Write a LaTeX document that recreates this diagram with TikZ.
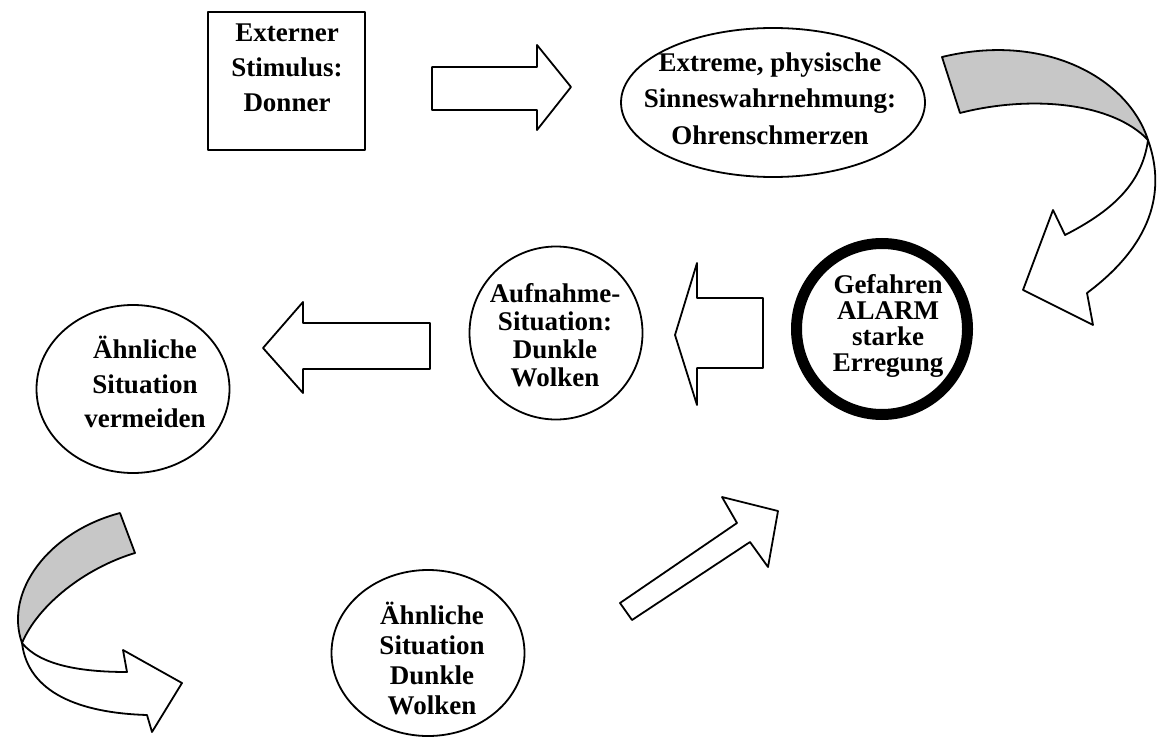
\documentclass[tikz,border=0pt]{standalone}
\usepackage{fontspec}
\setmainfont{Liberation Serif}
\usetikzlibrary{shapes.geometric}
\begin{document}
\begin{tikzpicture}[x=1pt,y=-1pt,
  outline/.style={draw=black, line width=1.8pt, line join=round},
  blockarrow/.style={outline, fill=white},
  shadedband/.style={outline, fill=black!22},
  lbl/.style={font=\fontsize{27}{#1}\selectfont\bfseries, align=center, inner sep=0pt},
  lbl/.default=34,
]
\fill[white] (0,0) rectangle (1158,738);
\useasboundingbox (0,0) rectangle (1158,738);

% ---- shapes (nodes) ----
\node[outline, rectangle, minimum width=157pt, minimum height=138pt] (stim) at (286.5,81) {};
\node[lbl=35] (stimtext) at (287,68) {Externer\\Stimulus:\\Donner};

\node[outline, ellipse, minimum width=304pt, minimum height=149pt, inner sep=0pt] (sens) at (773,102.5) {};
\node[lbl=36.5] (senstext) at (770,98.5) {Extreme, physische\\Sinneswahrnehmung:\\Ohrenschmerzen};

\node[circle, draw=black, line width=11pt, minimum size=171pt, inner sep=0pt] (alarm) at (882,329) {};
\node[lbl=26] (alarmtext) at (888,326) {Gefahren\\ALARM\\starke\\Erregung};

\node[outline, circle, minimum size=173pt, inner sep=0pt] (aufn) at (556,333) {};
\node[lbl=28] (aufntext) at (555,335) {Aufnahme-\\Situation:\\Dunkle\\Wolken};

\node[outline, ellipse, minimum width=193pt, minimum height=168pt, inner sep=0pt] (meid) at (133,389) {};
\node[lbl=34.5] (meidtext) at (145,382) {Ähnliche\\Situation\\vermeiden};

\node[outline, ellipse, minimum width=193pt, minimum height=166pt, inner sep=0pt] (sim) at (428,653) {};
\node[lbl=30] (simtext) at (432,658) {Ähnliche\\Situation\\Dunkle\\Wolken};

% ---- straight block arrows ----
\draw[blockarrow] (432,67) -- (537,67) -- (537,45) -- (571,87) -- (537,130) -- (537,110) -- (432,110) -- cycle;
\draw[blockarrow] (763,298) -- (697,298) -- (697,263) -- (675,335) -- (697,405) -- (697,368) -- (763,368) -- cycle;
\draw[blockarrow] (430,323) -- (303,323) -- (303,302) -- (263,348) -- (303,393) -- (303,369) -- (430,369) -- cycle;
\draw[blockarrow] (620,603) -- (737,523) -- (722,497) -- (778,511) -- (768,567) -- (750,542) -- (632,620) -- cycle;

% ---- curved arrow, top right ----
\coordinate (twistA) at (1148,140);
\draw[blockarrow] (twistA) .. controls (1164,185) and (1158,240) .. (1087,293)
  -- (1093,325) -- (1023,290) -- (1053,210) -- (1065,235)
  .. controls (1110,212) and (1142,185) .. (twistA) -- cycle;
\draw[shadedband] (942,57) -- (960,113)
  .. controls (1030,95) and (1112,102) .. (twistA)
  .. controls (1128,78) and (1045,32) .. (942,57) -- cycle;

% ---- curved arrow, bottom left ----
\coordinate (twistB) at (22,643);
\draw[blockarrow] (twistB) .. controls (40,665) and (80,672) .. (127,672)
  -- (123,650) -- (182,683) -- (152,732) -- (147,715)
  .. controls (80,713) and (28,693) .. (twistB) -- cycle;
\draw[shadedband] (120,513) -- (135,553)
  .. controls (85,568) and (38,605) .. (twistB)
  .. controls (4,592) and (48,532) .. (120,513) -- cycle;
\end{tikzpicture}
\end{document}
